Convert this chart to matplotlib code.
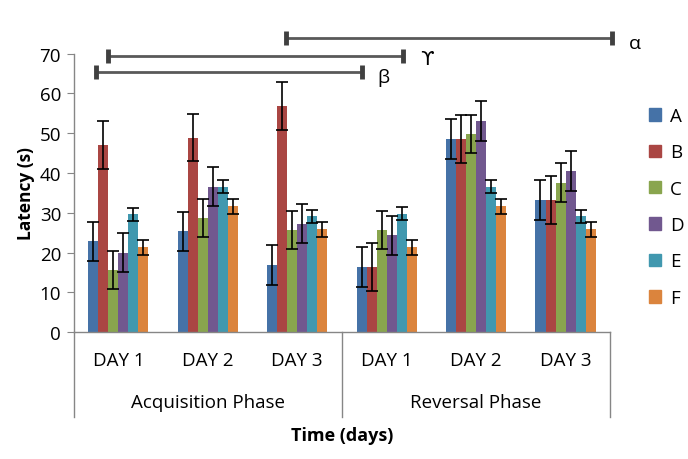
import numpy as np
import matplotlib
matplotlib.use("Agg")
import matplotlib.pyplot as plt
from matplotlib.patches import Patch
import matplotlib.transforms as mtransforms

plt.rcParams['font.family'] = ['Open Sans', 'DejaVu Sans']

# data
days = ["DAY 1", "DAY 2", "DAY 3", "DAY 1", "DAY 2", "DAY 3"]
phases = ["Acquisition Phase", "Reversal Phase"]
groups = ["A", "B", "C", "D", "E", "F"]
A = [22.8, 25.3, 16.8, 16.3, 48.6, 33.3]
B = [47.1, 48.9, 56.9, 16.3, 48.6, 33.3]
C = [15.5, 28.6, 25.6, 25.6, 49.9, 37.6]
D = [20.0, 36.6, 27.3, 24.3, 53.1, 40.6]
E = [29.6, 36.6, 29.1, 29.8, 36.6, 29.1]
F = [21.3, 31.6, 25.8, 21.3, 31.6, 25.8]
err_A = 5.0
err_B = 6.0
err_C = 4.8
err_D = 5.0
err_E = 1.6
err_F = 1.9
colors = ["#4572A7", "#AA4643", "#89A54E", "#71588F", "#4198AF", "#DB843D"]

series = [A, B, C, D, E, F]
errs = [err_A, err_B, err_C, err_D, err_E, err_F]

fig = plt.figure(figsize=(6.88, 4.6), dpi=100)
ax = fig.add_axes([0.107, 0.276, 0.780, 0.605])

x = np.arange(len(days))
w = 0.112
for i, (vals, e, c) in enumerate(zip(series, errs, colors)):
    pos = x + (i - 2.5) * w
    ax.bar(pos, vals, width=w, color=c, label=groups[i], zorder=2)
    ax.errorbar(pos, vals, yerr=e, fmt='none', ecolor='black',
                elinewidth=1.2, capsize=4, capthick=1.2, zorder=3)

ax.set_xlim(-0.5, 5.5)
ax.set_ylim(0, 70)
ax.set_yticks(range(0, 71, 10))
ax.set_xticks([])
ax.tick_params(axis='y', labelsize=13.5, length=5, color='#868686', pad=4)
for s in ['top', 'right']:
    ax.spines[s].set_visible(False)
for s in ['left', 'bottom']:
    ax.spines[s].set_color('#868686')
    ax.spines[s].set_linewidth(1)

ax.set_ylabel("Latency (s)", fontsize=12.5, fontweight='bold', labelpad=3)

# category axis underneath
trans = mtransforms.blended_transform_factory(ax.transData, ax.transAxes)
for xs in [-0.5, 2.5, 5.5]:
    ax.plot([xs, xs], [0, -0.305], transform=trans, color='#868686',
            lw=1, clip_on=False)
for xi, d in zip(x, days):
    ax.text(xi, -0.102, d, transform=trans, ha='center', va='center', fontsize=13.5)
ax.text(1, -0.25, phases[0], transform=trans, ha='center', va='center', fontsize=13.5)
ax.text(4, -0.25, phases[1], transform=trans, ha='center', va='center', fontsize=13.5)
fig.text(0.497, 0.052, "Time (days)", ha='center', va='center',
         fontsize=13, fontweight='bold')

# significance brackets
brackets = [(1.877, 5.52, 74.0, "α", 5.77, 72.8),
            (-0.115, 3.185, 69.5, "ϒ", 3.45, 68.7),
            (-0.25, 2.727, 65.5, "β", 2.96, 64.2)]
for x0, x1, yb, lab, tx, ty in brackets:
    ax.plot([x0, x1], [yb, yb], color='#595959', lw=2, clip_on=False, zorder=4)
    ax.plot([x0, x1], [yb, yb], ls='none', marker='|', markersize=10,
            mew=3.5, color='#404040', clip_on=False, zorder=4)
    fam = ['DejaVu Sans'] if lab == "ϒ" else ['Open Sans', 'DejaVu Sans']
    ax.text(tx, ty, lab, ha='center', va='center', fontsize=14,
            family=fam, clip_on=False)

handles = [Patch(color=c, label=g) for c, g in zip(colors, groups)]
fig.legend(handles=handles, loc='center left', bbox_to_anchor=(0.932, 0.548),
           frameon=False, fontsize=13.5, handlelength=0.65, handleheight=0.65,
           handletextpad=0.5, labelspacing=0.98, borderaxespad=0)

fig.savefig("out.png", dpi=100)
